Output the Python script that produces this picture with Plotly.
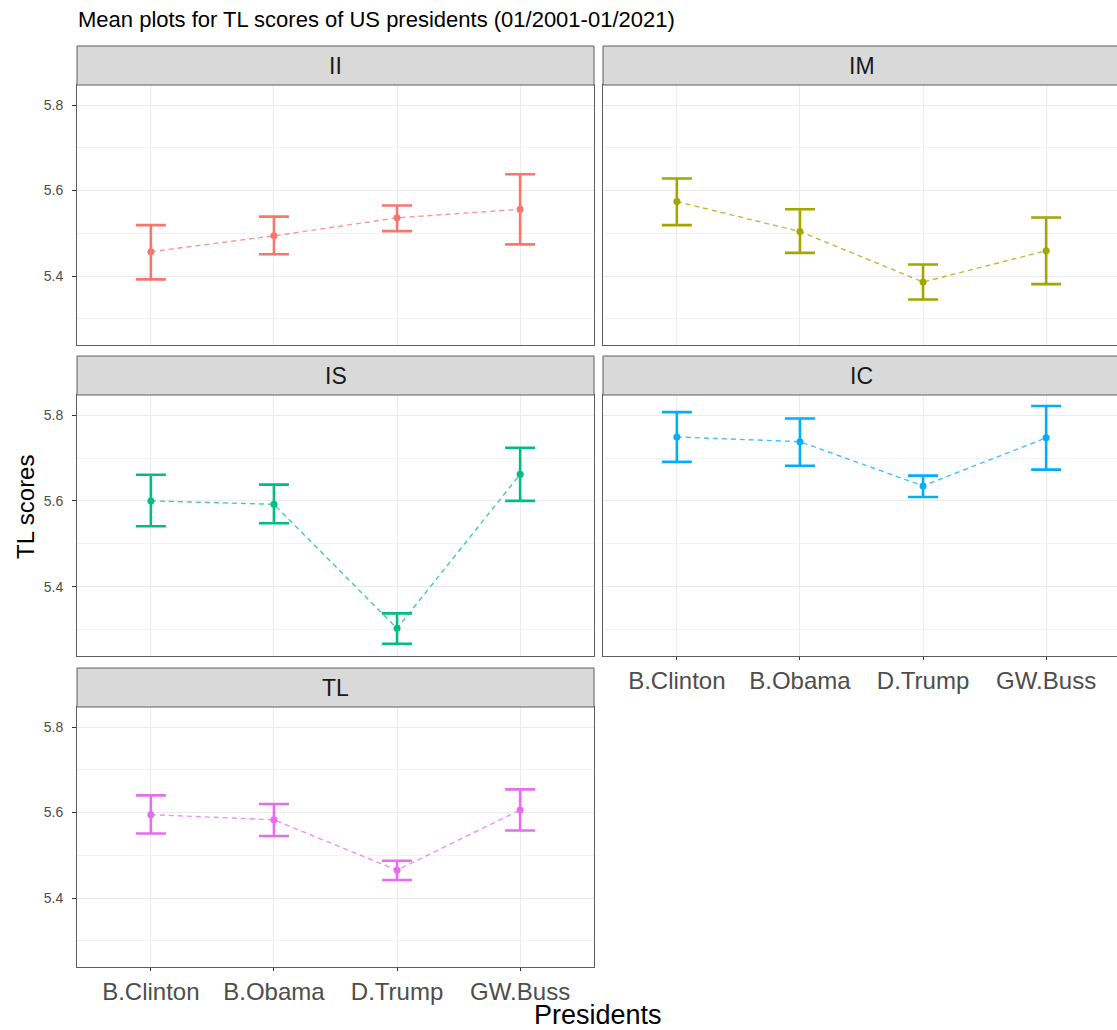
import plotly.graph_objects as go

W, H = 1117, 1030

presidents = ["B.Clinton", "B.Obama", "D.Trump", "GW.Buss"]
facets = ["II", "IM", "IS", "IC", "TL"]
colors = ["#F8766D", "#A3A500", "#00BF7D", "#00B0F6", "#E76BF3"]

ii_mean = [5.457, 5.494, 5.536, 5.556]
ii_upper = [5.519, 5.539, 5.565, 5.638]
ii_lower = [5.392, 5.451, 5.505, 5.474]

im_mean = [5.574, 5.504, 5.386, 5.459]
im_upper = [5.628, 5.556, 5.427, 5.537]
im_lower = [5.519, 5.454, 5.345, 5.381]

is_mean = [5.600, 5.592, 5.303, 5.662]
is_upper = [5.661, 5.638, 5.338, 5.724]
is_lower = [5.541, 5.548, 5.267, 5.600]

ic_mean = [5.749, 5.738, 5.635, 5.747]
ic_upper = [5.807, 5.792, 5.659, 5.821]
ic_lower = [5.691, 5.682, 5.609, 5.673]

tl_mean = [5.595, 5.583, 5.465, 5.606]
tl_upper = [5.640, 5.620, 5.487, 5.654]
tl_lower = [5.551, 5.545, 5.442, 5.558]

y_ticks = [5.4, 5.6, 5.8]
y_minor = [5.3, 5.5, 5.7]

means = [ii_mean, im_mean, is_mean, ic_mean, tl_mean]
uppers = [ii_upper, im_upper, is_upper, ic_upper, tl_upper]
lowers = [ii_lower, im_lower, is_lower, ic_lower, tl_lower]

# panel pixel boxes: (x0, x1, y0_top, y1_bottom)
boxes = [
    (77, 594, 85, 345),
    (603, 1117, 85, 345),
    (77, 594, 395, 656),
    (603, 1117, 395, 656),
    (77, 594, 707, 967),
]
strip_h = 39
unit_px = 517 / 4.2
show_x = [False, False, False, True, True]
show_y = [True, False, True, False, True]

border = "#5E5E5E"
FONT = "Liberation Sans, Arial"
fig = go.Figure()
layout = dict(shapes=[], annotations=[])

for i, name in enumerate(facets):
    ax = "" if i == 0 else str(i + 1)
    x0, x1, yt, yb = boxes[i]
    col = colors[i]
    m = means[i]
    up = [u - v for u, v in zip(uppers[i], m)]
    lo = [v - l for v, l in zip(m, lowers[i])]
    fig.add_trace(go.Scatter(
        x=presidents, y=m, mode="lines",
        line=dict(color=col, width=1.4, dash="5px,4px"), opacity=0.75,
        xaxis="x" + ax, yaxis="y" + ax, showlegend=False, hoverinfo="skip"))
    fig.add_trace(go.Scatter(
        x=presidents, y=m, mode="markers",
        marker=dict(color=col, size=7),
        error_y=dict(type="data", array=up, arrayminus=lo, color=col,
                     thickness=2.6, width=15),
        xaxis="x" + ax, yaxis="y" + ax, showlegend=False, name=name))
    xr1 = -0.6 + (x1 - x0) / unit_px
    layout["xaxis" + ax] = dict(
        domain=[x0 / W, min(x1 / W, 1.0)], anchor="y" + ax,
        type="category", categoryorder="array", categoryarray=presidents,
        range=[-0.6, xr1], showgrid=True, gridcolor="#EBEBEB", gridwidth=1.1,
        zeroline=False, showline=True, mirror=True, linecolor=border, linewidth=1,
        showticklabels=show_x[i], ticks="outside" if show_x[i] else "",
        ticklen=3, tickcolor="#333333",
        tickfont=dict(family=FONT, size=24, color="#4D4D4D"),
    )
    layout["yaxis" + ax] = dict(
        domain=[1 - yb / H, 1 - yt / H], anchor="x" + ax,
        range=[5.2386, 5.8468], tickvals=y_ticks, ticktext=[f"{v:.1f}" for v in y_ticks],
        showgrid=True, gridcolor="#EBEBEB", gridwidth=1.1,
        minor=dict(tickvals=y_minor, showgrid=True, gridcolor="#F2F2F2", gridwidth=1, ticks=""),
        zeroline=False, showline=True, mirror=True, linecolor=border, linewidth=1,
        showticklabels=show_y[i], ticks="outside" if show_y[i] else "",
        ticklen=4, tickcolor="#333333", ticklabelstandoff=6,
        tickfont=dict(family=FONT, size=14, color="#4D4D4D"),
    )
    # strip
    layout["shapes"].append(dict(
        type="rect", xref="paper", yref="paper",
        x0=x0 / W, x1=x1 / W + (0.01 if x1 >= W else 0), y0=1 - yt / H, y1=1 - (yt - strip_h) / H,
        fillcolor="#D9D9D9", line=dict(color=border, width=1), layer="above"))
    layout["annotations"].append(dict(
        text=name, xref="paper", yref="paper",
        x=((x0 + (x0 + 517)) / 2) / W, y=1 - (yt - strip_h / 2) / H,
        showarrow=False, xanchor="center", yanchor="middle",
        font=dict(family=FONT, size=23, color="#1A1A1A")))

layout["annotations"].append(dict(
    text="Mean plots for TL scores of US presidents (01/2001-01/2021)",
    xref="paper", yref="paper", x=76 / W, y=1 - 20 / H, xanchor="left", yanchor="middle",
    showarrow=False, font=dict(family=FONT, size=22, color="#000000")))
layout["annotations"].append(dict(
    text="TL scores", xref="paper", yref="paper", x=25 / W, y=1 - 507 / H,
    xanchor="center", yanchor="middle", textangle=-90, showarrow=False,
    font=dict(family=FONT, size=24, color="#000000")))
layout["annotations"].append(dict(
    text="Presidents", xref="paper", yref="paper", x=598 / W, y=1 - 1015 / H,
    xanchor="center", yanchor="middle", showarrow=False,
    font=dict(family=FONT, size=27, color="#000000")))

fig.update_layout(
    width=W, height=H, margin=dict(l=0, r=0, t=0, b=0),
    paper_bgcolor="white", plot_bgcolor="white", showlegend=False, **layout)

fig.write_html(
    "out.html",
    config={"displayModeBar": False},
    post_script="document.body.style.margin='0px';document.body.style.padding='0px';"
                "document.documentElement.style.overflow='hidden';")
